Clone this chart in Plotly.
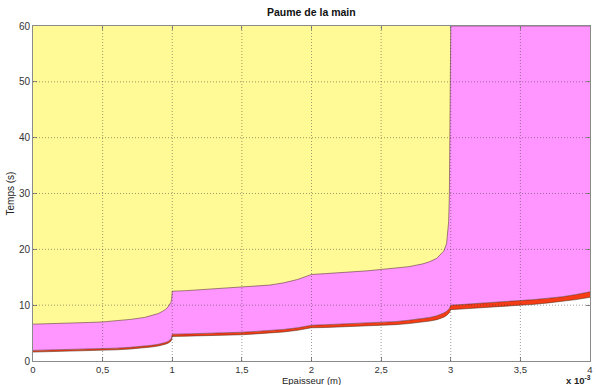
import plotly.graph_objects as go

# Epaisseur (x 10^-3 m)
x = [0, 0.1, 0.2, 0.3, 0.4, 0.5, 0.6, 0.7, 0.8, 0.85, 0.9, 0.93, 0.95, 0.97, 0.98, 0.99, 0.995, 0.999,
     1.0, 1.1, 1.2, 1.3, 1.4, 1.5, 1.6, 1.7, 1.75, 1.8, 1.9, 1.95,
     2.0, 2.1, 2.2, 2.3, 2.4, 2.5, 2.6, 2.7, 2.8, 2.85, 2.9, 2.93, 2.95, 2.97, 2.98, 2.985, 2.99, 2.993, 2.996, 2.999,
     3.0, 3.1, 3.2, 3.3, 3.4, 3.5, 3.6, 3.7, 3.8, 3.9, 4.0]

# lower edge of the red band (s)
t_low = [1.6, 1.65, 1.7, 1.75, 1.8, 1.9, 2.0, 2.15, 2.35, 2.5, 2.7, 2.85, 3.0, 3.2, 3.35, 3.55, 3.75, 4.05,
         4.4, 4.45, 4.5, 4.6, 4.65, 4.7, 4.85, 5.0, 5.1, 5.2, 5.5, 5.7,
         5.95, 6.0, 6.1, 6.2, 6.3, 6.35, 6.5, 6.7, 6.95, 7.15, 7.4, 7.65, 7.85, 8.15, 8.35, 8.5, 8.65, 8.8, 8.95, 9.1,
         9.2, 9.35, 9.5, 9.65, 9.8, 9.95, 10.15, 10.4, 10.65, 11.0, 11.4]

# upper edge of the red band (s)
t_mid = [1.9, 1.95, 2.0, 2.05, 2.1, 2.2, 2.3, 2.45, 2.65, 2.8, 3.0, 3.15, 3.3, 3.5, 3.65, 3.9, 4.1, 4.4,
         4.8, 4.85, 4.9, 5.0, 5.05, 5.15, 5.3, 5.45, 5.55, 5.65, 5.95, 6.15,
         6.4, 6.5, 6.6, 6.7, 6.8, 6.9, 7.05, 7.3, 7.6, 7.8, 8.1, 8.35, 8.6, 8.9, 9.1, 9.25, 9.4, 9.55, 9.7, 9.9,
         10.0, 10.15, 10.3, 10.45, 10.6, 10.8, 11.0, 11.25, 11.5, 11.9, 12.4]

# upper edge of the pink band (s); reaches the top of the axes from 3e-3 m
t_high = [6.6, 6.65, 6.7, 6.8, 6.9, 7.0, 7.2, 7.45, 7.8, 8.1, 8.5, 8.9, 9.2, 9.7, 10.0, 10.5, 11.0, 11.8,
          12.5, 12.6, 12.75, 12.9, 13.05, 13.2, 13.4, 13.6, 13.8, 14.0, 14.6, 15.0,
          15.5, 15.65, 15.8, 15.95, 16.15, 16.4, 16.6, 16.9, 17.4, 17.8, 18.4, 19.1, 19.7, 21.0, 23.0, 25.0, 30.0, 40.0, 55.0, 60.0,
          60, 60, 60, 60, 60, 60, 60, 60, 60, 60, 60]

x_ticks = [0, 0.5, 1, 1.5, 2, 2.5, 3, 3.5, 4]
x_ticktext = ["0", "0,5", "1", "1,5", "2", "2,5", "3", "3,5", "4"]
y_ticks = [0, 10, 20, 30, 40, 50, 60]

FONT = "Liberation Sans, Arial, sans-serif"
edge = "rgba(70,40,40,0.75)"

fig = go.Figure()
fig.add_trace(go.Scatter(x=x, y=t_low, mode="lines", fill="tozeroy", fillcolor="white",
                         line=dict(color=edge, width=0.7), hoverinfo="skip", showlegend=False))
fig.add_trace(go.Scatter(x=x, y=t_mid, mode="lines", fill="tonexty", fillcolor="#f53c14",
                         line=dict(color=edge, width=0.7), hoverinfo="skip", showlegend=False))
fig.add_trace(go.Scatter(x=x, y=t_high, mode="lines", fill="tonexty", fillcolor="#ff96ff",
                         line=dict(color=edge, width=0.7), hoverinfo="skip", showlegend=False))

grid = dict(color="rgba(60,60,60,0.5)", width=1, dash="1px,2px")
for v in x_ticks[1:-1]:
    fig.add_shape(type="line", xref="x", yref="paper", x0=v, x1=v, y0=0, y1=1, line=grid, layer="above")
for v in y_ticks[1:-1]:
    fig.add_shape(type="line", xref="paper", yref="y", x0=0, x1=1, y0=v, y1=v, line=grid, layer="above")

axis_common = dict(showgrid=False, zeroline=False, showline=True, linecolor="#8a8a8a", linewidth=1,
                   mirror="ticks", ticks="inside", ticklen=4, tickcolor="#8a8a8a",
                   layer="above traces")

fig.update_layout(
    width=596, height=385,
    margin=dict(l=33, r=3, t=26, b=24),
    paper_bgcolor="white",
    plot_bgcolor="#fffa96",
    xaxis=dict(range=[0, 4], tickvals=x_ticks, ticktext=x_ticktext, ticklabeloverflow="allow",
               tickfont=dict(family=FONT, size=9.5, color="#333333"), **axis_common),
    yaxis=dict(range=[0, 60], tickvals=y_ticks,
               tickfont=dict(family=FONT, size=10, color="#333333"), **axis_common),
    annotations=[
        dict(text="<b>Paume de la main</b>", xref="paper", yref="paper", x=0.5, y=1, yshift=14,
             xanchor="center", yanchor="middle", showarrow=False,
             font=dict(family=FONT, size=10.5, color="#111111")),
        dict(text="Epaisseur (m)", xref="paper", yref="paper", x=0.5, y=0, yshift=-19,
             xanchor="center", yanchor="middle", showarrow=False,
             font=dict(family=FONT, size=9.5, color="#222222")),
        dict(text="Temps (s)", xref="paper", yref="paper", x=0, y=0.5, xshift=-23,
             xanchor="center", yanchor="middle", textangle=-90, showarrow=False,
             font=dict(family=FONT, size=10, color="#222222")),
        dict(text="<b>x 10<sup>-3</sup></b>", xref="paper", yref="paper", x=1, y=0, xshift=3, yshift=-19,
             xanchor="right", yanchor="middle", showarrow=False,
             font=dict(family=FONT, size=9.5, color="#222222")),
    ],
)

fig.write_html("out.html", config={"displayModeBar": False},
               post_script="document.body.style.margin='0px';document.body.style.overflow='hidden';")
